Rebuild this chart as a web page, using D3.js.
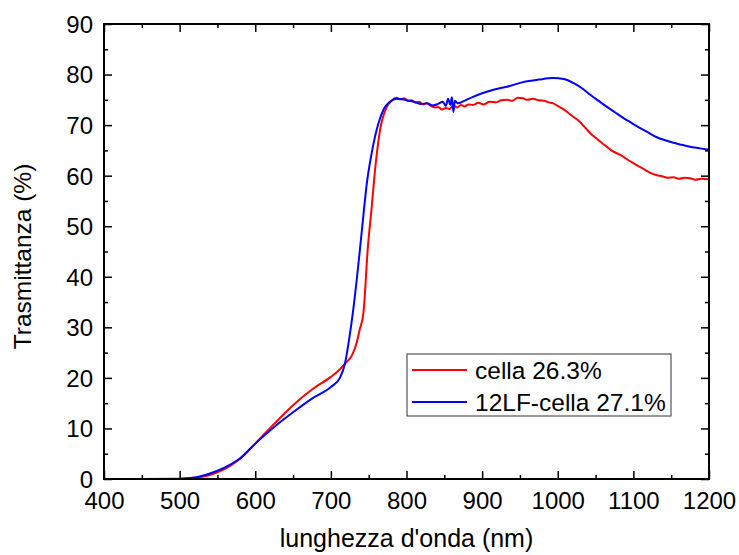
<!DOCTYPE html>
<html lang="it">
<head>
    <meta charset="UTF-8">
    <title>Trasmittanza</title>
    <script src="https://cdn.jsdelivr.net/npm/d3@7"></script>
    <style>
        body { margin: 0; background: #fff; }
        text { font-family: "Liberation Sans", Arial, sans-serif; fill: #000; }
        .frame { fill: none; stroke: #000; stroke-width: 2px; }
        .tick line { stroke: #000; stroke-width: 1.5px; }
        .curve { fill: none; stroke-width: 2px; stroke-linejoin: round; }
    </style>
</head>
<body>
<script>
    // wavelength (nm) / transmittance (%)
    const redNm = [400, 450, 500, 510, 520, 540, 560, 580, 600, 625, 650, 675, 700, 710, 720, 728, 734, 738, 743, 749, 754, 758, 765, 774, 780, 787,
        792, 797, 802, 807, 812, 817, 822, 827, 832, 837, 842, 847, 852, 857, 862, 867, 872, 877, 882, 888, 895, 902, 910, 918, 925, 933, 940, 947, 954, 960, 967, 975, 982, 988, 994,
        1000, 1007, 1014, 1021, 1028, 1035, 1043, 1050, 1058, 1065, 1072, 1080, 1087, 1094, 1101, 1109, 1116, 1123, 1131, 1138, 1145, 1153, 1160, 1168, 1175, 1182, 1190, 1200]
    const redT = [0, 0, 0, 0.1, 0.25, 0.8, 2.0, 4.0, 7.0, 10.9, 14.6, 17.7, 20.2, 21.4, 23.0, 24.5, 26.9, 29.5, 32.8, 46.0, 53.8, 60.5, 69.0, 73.6, 74.8, 75.4,
        75.1, 75.3, 74.8, 74.9, 74.4, 74.6, 74.1, 74.3, 73.8, 73.5, 73.6, 73.1, 73.4, 73.2, 73.9, 73.5, 74.0, 73.7, 74.1, 74.0, 74.4, 74.1, 74.6, 74.5, 74.9, 75.0, 74.8, 75.4, 75.3, 75.0, 75.2, 74.9, 74.8, 74.5, 74.3,
        73.8, 73.2, 72.4, 71.6, 70.8, 69.7, 68.4, 67.5, 66.5, 65.7, 64.9, 64.3, 63.7, 63.0, 62.4, 61.7, 61.1, 60.5, 60.1, 59.9, 59.6, 59.7, 59.4, 59.6, 59.5, 59.2, 59.4, 59.3]

    const blueNm = [400, 450, 500, 510, 520, 540, 560, 580, 600, 625, 650, 675, 700, 712, 719, 724, 729, 735, 741, 748, 754, 763, 770, 778, 787,
        795, 803, 811, 819, 827, 835, 842, 848, 852, 855, 858, 860, 862, 864, 868, 875, 888, 900, 915, 933, 954, 975, 994,
        1008, 1021, 1032, 1043, 1054, 1065, 1076, 1087, 1098, 1109, 1120, 1131, 1142, 1153, 1164, 1175, 1188, 1200]
    const blueT = [0, 0, 0.05, 0.15, 0.3, 1.1, 2.3, 4.1, 7.0, 10.3, 13.2, 15.9, 18.2, 20.0, 23.1, 27.5, 32.8, 40.5, 49.2, 59.0, 64.5, 70.4, 73.2, 74.6, 75.2,
        75.1, 74.8, 74.6, 74.2, 74.3, 73.9, 74.2, 74.6, 73.8, 75.2, 74.0, 75.5, 72.6, 74.8, 74.3, 74.7, 75.6, 76.3, 77.0, 77.6, 78.5, 79.0, 79.3,
        79.1, 78.3, 77.3, 76.0, 74.8, 73.6, 72.5, 71.4, 70.4, 69.4, 68.5, 67.6, 67.0, 66.5, 66.1, 65.7, 65.4, 65.1]

    const seriesNames = ["cella 26.3%", "12LF-cella 27.1%"]
    const seriesColors = ["#ff0000", "#0000ff"]
    const xTicks = [400, 500, 600, 700, 800, 900, 1000, 1100, 1200]
    const yTicks = [0, 10, 20, 30, 40, 50, 60, 70, 80, 90]

    const width = 739, height = 555
    const margin = {top: 24, right: 30, bottom: 76, left: 104}
    const w = 709 - margin.left, h = 479 - margin.top

    const x = d3.scaleLinear().domain([400, 1200]).range([0, w])
    const y = d3.scaleLinear().domain([0, 90]).range([h, 0])

    const svg = d3.select("body").append("svg").attr("width", width).attr("height", height)
    const chart = svg.append("g").attr("transform", `translate(${[margin.left, margin.top]})`)

    // minor + major ticks, all inward, on the four sides
    const xMinor = d3.range(450, 1200, 100)
    const yMinor = d3.range(5, 90, 10)

    function ticksX(g, orient, vals, len, labels) {
        const ax = (orient === "bottom" ? d3.axisBottom(x) : d3.axisTop(x))
            .tickValues(vals).tickSizeInner(-len).tickSizeOuter(0)
            .tickFormat(labels ? d3.format("d") : "")
        g.call(ax)
        g.select(".domain").remove()
    }

    function ticksY(g, orient, vals, len, labels) {
        const ax = (orient === "left" ? d3.axisLeft(y) : d3.axisRight(y))
            .tickValues(vals).tickSizeInner(-len).tickSizeOuter(0)
            .tickFormat(labels ? d3.format("d") : "")
        g.call(ax)
        g.select(".domain").remove()
    }

    const bottom = chart.append("g").attr("transform", `translate(0,${h})`)
    ticksX(bottom, "bottom", xTicks, 8, true)
    bottom.selectAll("text").attr("font-size", 24).attr("y", 30).attr("dy", null)
    ticksX(chart.append("g").attr("transform", `translate(0,${h})`), "bottom", xMinor, 4, false)
    ticksX(chart.append("g"), "top", xTicks, 8, false)
    ticksX(chart.append("g"), "top", xMinor, 4, false)

    const left = chart.append("g")
    ticksY(left, "left", yTicks, 8, true)
    left.selectAll("text").attr("font-size", 24).attr("x", -11).attr("dy", "0.35em")
    ticksY(chart.append("g"), "left", yMinor, 4, false)
    ticksY(chart.append("g").attr("transform", `translate(${w},0)`), "right", yTicks, 8, false)
    ticksY(chart.append("g").attr("transform", `translate(${w},0)`), "right", yMinor, 4, false)

    chart.selectAll(".tick text").attr("font-family", "Liberation Sans, Arial, sans-serif").style("fill", "#000")

    svg.append("defs").append("clipPath").attr("id", "plot")
        .append("rect").attr("width", w).attr("height", h)

    const line = d3.line().curve(d3.curveMonotoneX).x(d => x(d[0])).y(d => y(d[1]))
    const series = [d3.zip(redNm, redT), d3.zip(blueNm, blueT)]

    chart.append("g").attr("clip-path", "url(#plot)")
        .selectAll("path").data(series).join("path")
        .attr("class", "curve")
        .attr("stroke", (d, i) => seriesColors[i])
        .attr("d", line)

    chart.append("rect").attr("class", "frame").attr("width", w).attr("height", h)

    // legend
    const legend = chart.append("g").attr("transform", `translate(${407 - margin.left},${354 - margin.top})`)
    legend.append("rect").attr("width", 264).attr("height", 62)
        .attr("fill", "#fff").attr("stroke", "#333").attr("stroke-width", 1)
    seriesNames.forEach((name, i) => {
        const row = legend.append("g").attr("transform", `translate(0,${16 + i * 32})`)
        row.append("line").attr("x1", 5).attr("x2", 60)
            .attr("stroke", seriesColors[i]).attr("stroke-width", 2)
        row.append("text").attr("x", 68).attr("dy", "0.35em").attr("font-size", 24.5).text(name)
    })

    // axis titles
    svg.append("text").attr("x", 406.5).attr("y", 547)
        .attr("text-anchor", "middle").attr("font-size", 25).text("lunghezza d'onda (nm)")
    svg.append("text").attr("transform", `translate(31,256.5) rotate(-90)`)
        .attr("text-anchor", "middle").attr("font-size", 24.5).text("Trasmittanza (%)")
</script>
</body>
</html>
